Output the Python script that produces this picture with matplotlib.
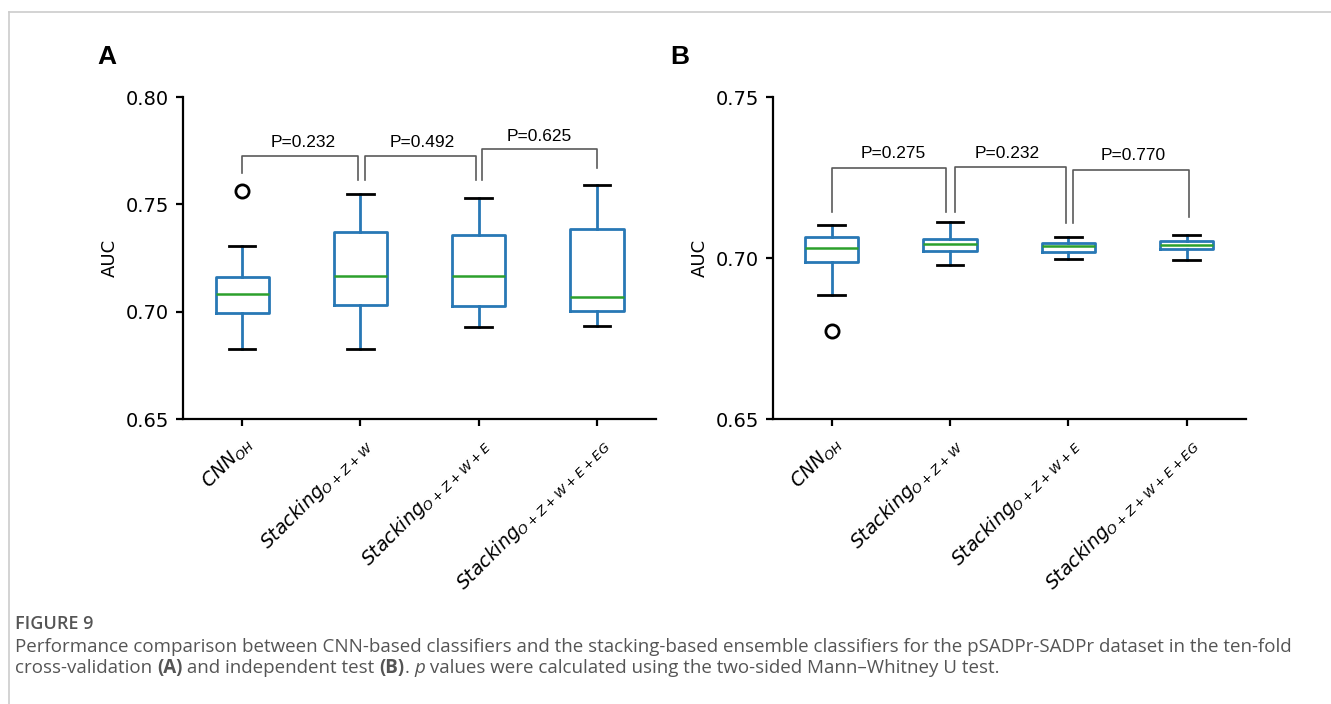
import matplotlib
matplotlib.use("Agg")
import matplotlib.pyplot as plt
from matplotlib.lines import Line2D

# box statistics (whislo, q1, med, q3, whishi)
labels = [r"$CNN_{OH}$", r"$Stacking_{O+Z+W}$", r"$Stacking_{O+Z+W+E}$",
          r"$Stacking_{O+Z+W+E+EG}$"]

cv_whislo = [0.6828, 0.6828, 0.6929, 0.6935]
cv_q1 = [0.6996, 0.7033, 0.7028, 0.7004]
cv_med = [0.7083, 0.7165, 0.7168, 0.7069]
cv_q3 = [0.7160, 0.7370, 0.7356, 0.7383]
cv_whishi = [0.7304, 0.7548, 0.7530, 0.7588]
cv_fliers = [[0.7563], [], [], []]

ind_whislo = [0.6886, 0.6979, 0.6997, 0.6994]
ind_q1 = [0.6987, 0.7023, 0.7018, 0.7027]
ind_med = [0.7031, 0.7042, 0.7036, 0.7041]
ind_q3 = [0.7064, 0.7060, 0.7046, 0.7053]
ind_whishi = [0.7104, 0.7112, 0.7066, 0.7070]
ind_fliers = [[0.6772], [], [], []]

# brackets: left x, right x, bar y, left leg end, right leg end
cv_brackets = [(1.0, 1.98, 0.7726, 0.7647, 0.7613),
               (2.04, 2.98, 0.7726, 0.7613, 0.7613),
               (3.03, 4.0, 0.7760, 0.7613, 0.7670)]
cv_pvals = ["P=0.232", "P=0.492", "P=0.625"]
cv_ptext = [(1.52, 0.7790), (2.52, 0.7790), (3.51, 0.7817)]

ind_brackets = [(1.0, 1.97, 0.7280, 0.7144, 0.7144),
                (2.04, 2.98, 0.7282, 0.7144, 0.7108),
                (3.04, 4.02, 0.7273, 0.7108, 0.7126)]
ind_pvals = ["P=0.275", "P=0.232", "P=0.770"]
ind_ptext = [(1.52, 0.7326), (2.48, 0.7326), (3.55, 0.7319)]

BLUE = "#2878b5"
GREEN = "#2ca02c"
GRAY = "#5a5a5a"


def make_stats(lo, q1, med, q3, hi, fl):
    return [dict(whislo=lo[i], q1=q1[i], med=med[i], q3=q3[i], whishi=hi[i],
                 fliers=fl[i], label=labels[i]) for i in range(len(lo))]


def draw_panel(ax, stats, brackets, pvals, ptext, ylim, yticks):
    ax.bxp(stats, positions=[1, 2, 3, 4], widths=0.45, showfliers=True,
           boxprops=dict(color=BLUE, linewidth=2),
           whiskerprops=dict(color=BLUE, linewidth=2),
           capprops=dict(color="black", linewidth=2),
           medianprops=dict(color=GREEN, linewidth=1.8),
           flierprops=dict(marker="o", markerfacecolor="none",
                           markeredgecolor="black", markersize=9.5,
                           markeredgewidth=2))
    for (x1, x2, yb, yl, yr), p, (tx, ty) in zip(brackets, pvals, ptext):
        ax.plot([x1, x1, x2, x2], [yl, yb, yb, yr], color=GRAY, lw=1.2)
        ax.text(tx, ty, p, ha="center", va="center", fontsize=12.5,
                family="Liberation Sans")
    ax.set_xlim(0.5, 4.5)
    ax.set_ylim(*ylim)
    ax.set_yticks(yticks)
    ax.set_yticklabels(["%.2f" % v for v in yticks])
    ax.spines["top"].set_visible(False)
    ax.spines["right"].set_visible(False)
    for s in ["left", "bottom"]:
        ax.spines[s].set_linewidth(1.6)
    ax.tick_params(width=1.6, length=5, labelsize=14, pad=5)
    ax.set_xticks([1, 2, 3, 4])
    ax.set_xticklabels(labels, rotation=45, ha="right", rotation_mode="anchor",
                       fontsize=13.5)
    ax.set_ylabel("AUC", fontsize=13, labelpad=5)


fig = plt.figure(figsize=(13.31, 7.04), dpi=100)
axA = fig.add_axes([0.1375, 0.4048, 0.3554, 0.4574])
axB = fig.add_axes([0.5805, 0.4048, 0.3554, 0.4574])

draw_panel(axA, make_stats(cv_whislo, cv_q1, cv_med, cv_q3, cv_whishi, cv_fliers),
           cv_brackets, cv_pvals, cv_ptext, (0.65, 0.80), [0.65, 0.70, 0.75, 0.80])
draw_panel(axB, make_stats(ind_whislo, ind_q1, ind_med, ind_q3, ind_whishi, ind_fliers),
           ind_brackets, ind_pvals, ind_ptext, (0.65, 0.75), [0.65, 0.70, 0.75])

fig.text(97 / 1331, 1 - 57 / 704, "A", fontsize=19, fontweight="bold",
         family="Liberation Sans", va="center")
fig.text(670 / 1331, 1 - 57 / 704, "B", fontsize=19, fontweight="bold",
         family="Liberation Sans", va="center")

# page frame
fig.add_artist(Line2D([9 / 1331, 1], [1 - 12 / 704, 1 - 12 / 704], color="#cccccc", lw=1.2))
fig.add_artist(Line2D([9 / 1331, 9 / 1331], [0, 1 - 12 / 704], color="#cccccc", lw=1.2))

# caption
cap_color = "#555555"
fig.text(15 / 1331, 1 - 624 / 704, "FIGURE 9", fontsize=13, fontweight="semibold",
         family="Open Sans", color=cap_color, va="center")
fig.text(15 / 1331, 1 - 647 / 704,
         "Performance comparison between CNN-based classifiers and the stacking-based "
         "ensemble classifiers for the pSADPr-SADPr dataset in the ten-fold",
         fontsize=13.5, family="Open Sans", color=cap_color, va="center")

pieces = [("cross-validation ", "normal", "normal"), ("(A)", "bold", "normal"),
          (" and independent test ", "normal", "normal"), ("(B)", "bold", "normal"),
          (". ", "normal", "normal"), ("p", "normal", "italic"),
          (" values were calculated using the two-sided Mann\u2013Whitney U test.",
           "normal", "normal")]
prev = None
for txt, wt, st in pieces:
    if prev is None:
        prev = fig.text(15 / 1331, 1 - 668 / 704, txt, fontsize=13.5, family="Open Sans",
                        color=cap_color, va="center", fontweight=wt, style=st)
    else:
        prev = fig.add_artist(plt.Annotation(txt, xy=(1, 0.5), xycoords=prev,
                                             va="center", ha="left", fontsize=13.5,
                                             family="Open Sans", color=cap_color,
                                             fontweight=wt, style=st))

fig.savefig("out.png", dpi=100)
